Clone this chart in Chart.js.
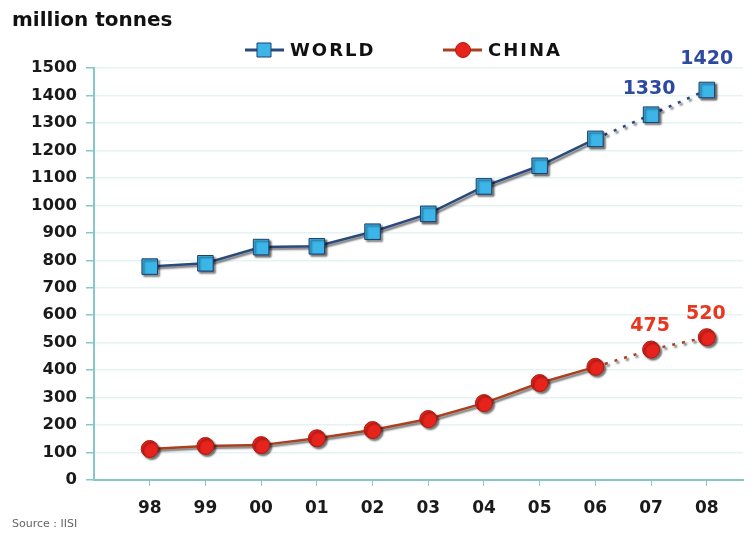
<!DOCTYPE html>
<html>
<head>
<meta charset="utf-8">
<script src="https://cdn.jsdelivr.net/npm/chart.js@4/dist/chart.umd.min.js"></script>
<style>
  html, body { margin: 0; padding: 0; background: #fff; }
  #wrap { width: 755px; height: 533px; position: relative; }
</style>
</head>
<body>
<div id="wrap"><canvas id="chart"></canvas></div>
<script>
const years = ["98", "99", "00", "01", "02", "03", "04", "05", "06", "07", "08"];
const world = [777, 789, 848, 851, 904, 969, 1069, 1144, 1242, 1330, 1420];
const china = [113, 124, 127, 152, 182, 222, 280, 353, 412, 475, 520];
const yTicks = [0, 100, 200, 300, 400, 500, 600, 700, 800, 900, 1000, 1100, 1200, 1300, 1400, 1500];
const labelled = [9, 10]; // forecast points carrying value labels
const forecastFrom = 8;

const FONT = "'DejaVu Sans', Verdana, sans-serif";
const AXIS = "#86c8c8";

const toXY = (arr) => arr.map((v, i) => ({ x: i, y: v }));
const dashed = (ctx) => (ctx.p0DataIndex >= forecastFrom ? [3, 7] : undefined);

// shadows under marks, value labels, title, legend and source text
const decor = {
  id: "decor",
  beforeDatasetDraw(chart) {
    const c = chart.ctx;
    c.save();
    c.shadowColor = "rgba(0,0,0,0.55)";
    c.shadowOffsetX = 2;
    c.shadowOffsetY = 2;
    c.shadowBlur = 2;
  },
  afterDatasetDraw(chart) {
    chart.ctx.restore();
  },
  afterDraw(chart) {
    const c = chart.ctx;
    c.save();
    c.textAlign = "center";
    c.textBaseline = "middle";
    c.font = "bold 19px " + FONT;
    const offs = [[-2, -26], [0, -31]];
    chart.data.datasets.forEach((ds, di) => {
      const meta = chart.getDatasetMeta(di);
      labelled.forEach((idx, k) => {
        const p = meta.data[idx];
        c.fillStyle = ds.labelColor;
        const o = di === 0 ? offs[k] : [-1, -23];
        c.fillText(String(ds.data[idx].y), p.x + o[0], p.y + o[1]);
      });
    });

    // title
    c.textAlign = "left";
    c.fillStyle = "#111";
    c.font = "bold 20px " + FONT;
    c.fillText("million tonnes", 12, 21);

    // legend
    const items = [
      { x: 245, ds: chart.data.datasets[0], text: "WORLD" },
      { x: 443, ds: chart.data.datasets[1], text: "CHINA" }
    ];
    items.forEach((it) => {
      const y = 50;
      c.strokeStyle = it.ds.borderColor;
      c.lineWidth = 3;
      c.beginPath();
      c.moveTo(it.x, y);
      c.lineTo(it.x + 39, y);
      c.stroke();
      c.fillStyle = it.ds.pointBackgroundColor;
      c.strokeStyle = it.ds.pointBorderColor;
      c.lineWidth = 1;
      c.beginPath();
      if (it.ds.pointStyle === "rect") {
        c.rect(it.x + 12, y - 7, 14, 14);
      } else {
        c.arc(it.x + 20, y, 7.5, 0, Math.PI * 2);
      }
      c.fill();
      c.stroke();
      c.fillStyle = "#111";
      c.font = "bold 18px " + FONT;
      c.letterSpacing = "2px";
      c.fillText(it.text, it.x + 45, y + 1);
      c.letterSpacing = "0px";
    });

    c.font = "11px " + FONT;
    c.fillStyle = "#666";
    c.fillText("Source : IISI", 12, 524);
    c.restore();
  }
};

new Chart(document.getElementById("chart"), {
  type: "line",
  data: {
    datasets: [
      {
        label: "WORLD",
        data: toXY(world),
        borderColor: "#2b4a7c",
        borderWidth: 2.5,
        pointStyle: "rect",
        pointRadius: 11,
        pointBackgroundColor: "#3cb6e9",
        pointBorderColor: "#1f3f70",
        pointBorderWidth: 1,
        labelColor: "#2e4aa0",
        segment: { borderDash: dashed },
        tension: 0
      },
      {
        label: "CHINA",
        data: toXY(china),
        borderColor: "#a8411f",
        borderWidth: 2.5,
        pointStyle: "circle",
        pointRadius: 8.5,
        pointBackgroundColor: "#e6231c",
        pointBorderColor: "#b01a12",
        pointBorderWidth: 1,
        labelColor: "#e8361f",
        segment: { borderDash: dashed },
        tension: 0
      }
    ]
  },
  options: {
    responsive: true,
    maintainAspectRatio: false,
    animation: false,
    layout: { padding: { top: 68, right: 0, left: 0, bottom: 0 } },
    plugins: { legend: { display: false }, tooltip: { enabled: false } },
    scales: {
      x: {
        type: "linear",
        min: -1,
        max: 10.65,
        afterBuildTicks: (s) => {
          s.ticks = years.map((_, i) => ({ value: i }));
        },
        afterFit: (s) => { s.height = 53; },
        ticks: {
          callback: (v) => years[v] ?? "",
          color: "#1a1a1a",
          font: { family: FONT, size: 17, weight: "bold" },
          padding: 12,
          maxRotation: 0
        },
        grid: { drawOnChartArea: false, drawTicks: true, tickLength: 6, color: AXIS },
        border: { color: AXIS, width: 2 }
      },
      y: {
        min: 0,
        max: 1500,
        afterBuildTicks: (s) => {
          s.ticks = yTicks.map((v) => ({ value: v }));
        },
        afterFit: (s) => { s.width = 94; },
        ticks: {
          callback: (v) => String(v),
          color: "#1a1a1a",
          font: { family: FONT, size: 16.5, weight: "bold" },
          padding: 9
        },
        grid: { color: "#e4f3f3", tickColor: AXIS, tickLength: 8, lineWidth: 1.5 },
        border: { color: AXIS, width: 2 }
      }
    }
  },
  plugins: [decor]
});
</script>
</body>
</html>
